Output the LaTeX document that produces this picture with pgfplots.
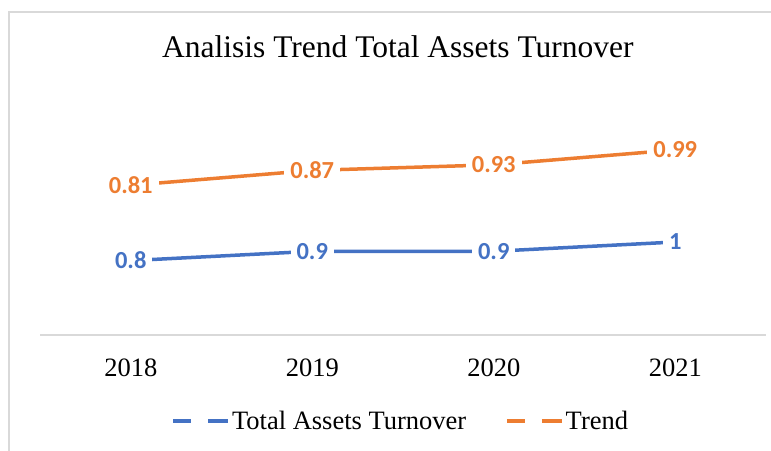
\documentclass[border=0pt]{standalone}
\usepackage{fontspec}
\setmainfont{Liberation Serif}
\newfontfamily\carlito{Carlito}
\usepackage{pgfplots}
\pgfplotsset{compat=1.18}

\definecolor{tatblue}{HTML}{4472C4}
\definecolor{trendorange}{HTML}{ED7D31}
\definecolor{framegray}{HTML}{D9D9D9}

\begin{document}
\begin{tikzpicture}
\useasboundingbox (-40pt,-115pt) rectangle (731pt,335pt);
\draw[framegray, line width=1.5pt] (-31pt,-116pt) -- (-31pt,323pt) -- (732pt,323pt);
\begin{axis}[
    at={(0pt,0pt)}, anchor=south west,
    scale only axis,
    width=726pt, height=232.5pt,
    xmin=-0.5, xmax=3.5,
    ymin=0, ymax=2.5,
    stack plots=y,
    axis x line*=bottom,
    axis y line=none,
    x axis line style={draw=framegray, line width=1.5pt},
    xtick={0,1,2,3},
    xticklabels={2018,2019,2020,2021},
    xtick style={draw=none},
    ytick=\empty,
    every x tick label/.append style={anchor=center, yshift=-33pt, font=\fontsize{26.5}{30}\selectfont},
    title={Analisis Trend Total Assets Turnover},
    title style={at={(0.493,1.215)}, anchor=center, font=\fontsize{31.5}{36}\selectfont},
    point meta=explicit symbolic,
    nodes near coords,
    nodes near coords align={center},
    every node near coord/.append style={anchor=center, fill=white, inner xsep=6pt, inner ysep=3pt,
        font=\carlito\bfseries\fontsize{24.5}{28}\selectfont},
    legend columns=2,
    legend style={draw=none, fill=none, at={(0.497,-0.37)}, anchor=center,
        font=\fontsize{26.5}{30}\selectfont,
        /tikz/every even column/.append style={column sep=37pt}},
    legend image code/.code={\draw[line width=3.5pt] (0pt,0pt) -- (18pt,0pt) (35pt,0pt) -- (55pt,0pt);},
    clip=false,
]
% Total Assets Turnover
\addplot[tatblue, line width=3.5pt, every node near coord/.append style={text=tatblue}]
    coordinates {(0,0.8)[0.8] (1,0.9)[0.9] (2,0.9)[0.9] (3,1)[1]};
\addlegendentry{Total Assets Turnover}
% Trend (stacked on top, as in the original)
\addplot[trendorange, line width=3.5pt, every node near coord/.append style={text=trendorange}]
    coordinates {(0,0.81)[0.81] (1,0.87)[0.87] (2,0.93)[0.93] (3,0.99)[0.99]};
\addlegendentry{Trend}
\end{axis}
\end{tikzpicture}
\end{document}
